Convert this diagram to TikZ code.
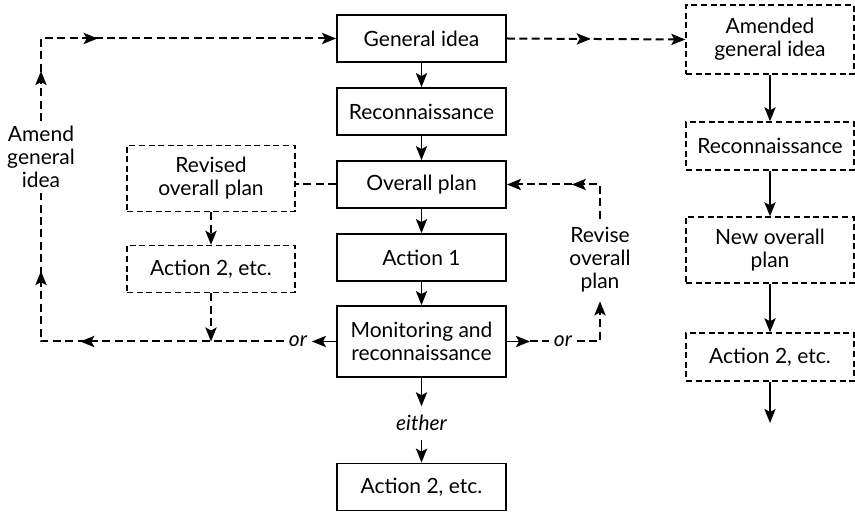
\documentclass[tikz,border=0pt]{standalone}
\usepackage{fontspec}
\setmainfont{Lato}
\usetikzlibrary{arrows.meta,decorations.markings}

\tikzset{
  box/.style={draw,line width=0.9pt,minimum width=84.5pt,minimum height=23.5pt,
              align=center,inner sep=2pt},
  dbox/.style={box,minimum width=84pt,line width=0.7pt,dash pattern=on 3pt off 1.8pt},
  link/.style={line width=1pt,dash pattern=on 4pt off 2.2pt},
  tag/.style={align=center,inner sep=2pt},
  note/.style={inner sep=2pt,font=\fontsize{10.5}{11.5}\selectfont\itshape},
  midarrow/.style={postaction={decorate,decoration={markings,
                   mark=at position #1 with {\arrow{>}}}}}
}

\begin{document}
\begin{tikzpicture}[->,>={Stealth[length=7pt,width=5.6pt,inset=1.5pt]},x=0.5pt,y=0.5pt,
                    node distance=36.5pt,line width=0.9pt,
                    font=\fontsize{10.5}{11.5}\selectfont]
  \useasboundingbox (0,0) rectangle (855,-512);

  % main cycle
  \node[box] (gen) at (421.5,-38.5) {General idea};
  \node[box] (rec) [below of=gen] {Reconnaissance};
  \node[box] (ovr) [below of=rec] {Overall plan};
  \node[box] (act) [below of=ovr] {Action 1};
  \node[box,minimum height=35.5pt] (mon) [below of=act,node distance=42pt]
       {Monitoring and\\reconnaissance};
  \node[note,inner sep=4pt] (either) [below of=mon,node distance=40.75pt] {either};
  \node[box] (fin) [below of=either,node distance=32pt] {Action 2, etc.};

  % amended cycle
  \node[dbox,minimum height=34.5pt] (amd) [right of=gen,node distance=174.25pt,yshift=-0.5pt]
       {Amended\\general idea};
  \node[dbox,minimum height=24pt] (rrc) [below of=amd,node distance=53.25pt] {Reconnaissance};
  \node[dbox,minimum height=33pt] (rnw) [below of=rrc,node distance=52pt] {New overall\\plan};
  \node[dbox,minimum height=24pt] (rac) [below of=rnw,node distance=53.5pt] {Action 2, etc.};
  \coordinate (rend) at (rac.south |- either);

  % revised plan
  \node[dbox,minimum height=33pt] (rvs) [left of=ovr,node distance=105.25pt,yshift=3pt]
       {Revised\\overall plan};
  \node[dbox] (lac) [below of=rvs,node distance=45.25pt] {Action 2, etc.};

  \node[tag] (amend) at (41,-157) {Amend\\general\\idea};
  \node[tag,inner sep=4pt] (revise) at (600,-260) {Revise\\overall\\plan};
  \node[note] (orl) at (298,-341.5) {or};
  \node[note] (orr) at (563,-341.5) {or};
  \coordinate (lj) at (lac |- mon);
  \coordinate (ra) at (530,-341.5);

  \path (gen) edge (rec)
        (rec) edge (ovr)
        (ovr) edge (act)
        (act) edge (mon)
        (mon) edge (either)
        (either) edge (fin)
        (amd) edge (rrc)
        (rrc) edge (rnw)
        (rnw) edge (rac)
        (rac) edge (rend);

  \draw[link,midarrow=0.47] (gen.east) -- (amd.west);
  \draw[link] (rvs) -- (lac);
  \draw[link] (lac) -- (lj);
  \draw[link,-] (ovr.west) -- (ovr.west -| rvs.east);

  % amend general idea
  \draw (mon.west) -- (orl.east);
  \draw[link,-,midarrow=0.52,midarrow=0.8] (orl.west) -| (amend.south);
  \draw[link,midarrow=0.133,midarrow=0.369] (amend.north) |- (gen.west);

  % revise overall plan
  \draw (mon.east) -- (ra);
  \draw[link,-] (ra) -- (orr.west);
  \draw[link] (orr.east) -| (revise.south);
  \draw[link,midarrow=0.49] (revise.north) |- (ovr.east);
\end{tikzpicture}
\end{document}
